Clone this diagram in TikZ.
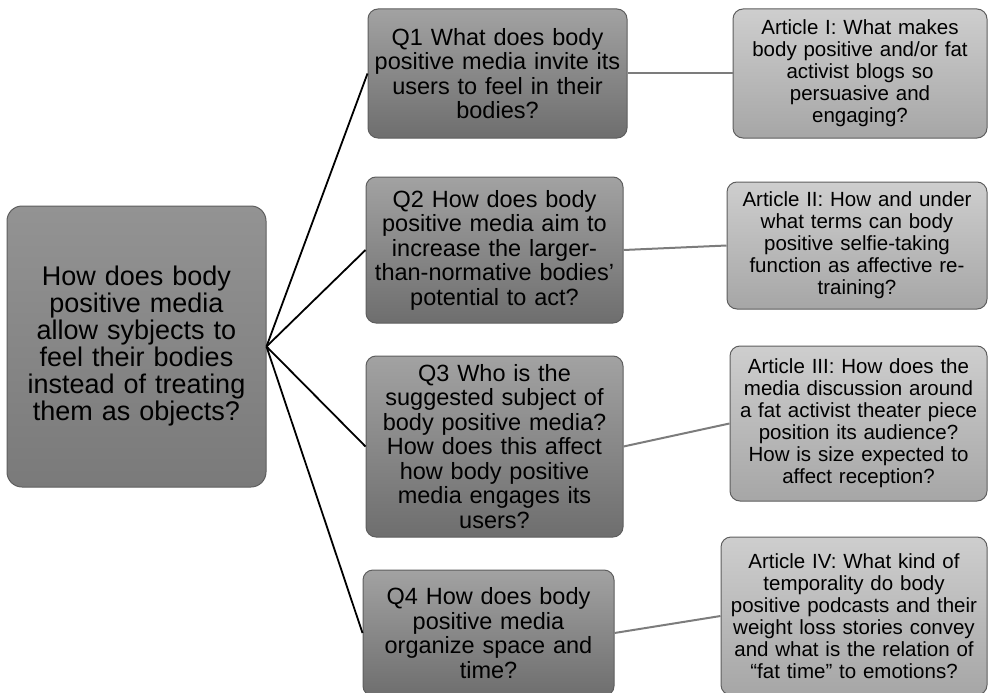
\documentclass[tikz,border=0pt]{standalone}
\usepackage{fontspec}
\setmainfont{Liberation Sans}
\usetikzlibrary{positioning}

\definecolor{rootTop}{HTML}{939393}
\definecolor{rootBot}{HTML}{7A7A7A}
\definecolor{quesTop}{HTML}{A2A2A2}
\definecolor{quesBot}{HTML}{6E6E6E}
\definecolor{artTop}{HTML}{CECECE}
\definecolor{artBot}{HTML}{A6A6A6}
\definecolor{boxLine}{HTML}{5E5E5E}
\definecolor{artLink}{HTML}{7C7C7C}

\tikzset{
    rootbox/.style={draw=boxLine, line width=1pt, rounded corners=15pt,
        top color=rootTop, bottom color=rootBot, align=center, inner sep=2pt,
        font=\fontsize{27}{27}\selectfont},
    quesbox/.style={draw=boxLine, line width=1pt, rounded corners=10pt,
        top color=quesTop, bottom color=quesBot, align=center, inner sep=2pt,
        font=\fontsize{23.5}{24.5}\selectfont},
    artbox/.style={draw=boxLine, line width=1pt, rounded corners=10pt,
        top color=artTop, bottom color=artBot, align=center, inner sep=2pt,
        font=\fontsize{20.5}{22}\selectfont},
    qlink/.style={black, line width=1.8pt},
    alink/.style={artLink, line width=2pt},
}

\begin{document}
\begin{tikzpicture}[x=1pt, y=-1pt]
    \useasboundingbox (0,0) rectangle (988,693);
    %% root question
    \node[rootbox, text width=255pt, minimum height=281pt] (root) at (136.5,346.5)
        {How does body\\ positive media\\ allow sybjects to\\ feel their bodies\\ instead of treating\\ them as objects?};
    %% research questions
    \node[quesbox, text width=255pt, minimum height=129pt] (q1) at (497.5,73.5)
        {Q1 What does body\\ positive media invite its\\ users to feel in their\\ bodies?};
    \node[quesbox, text width=253pt, minimum height=146pt] (q2) at (494.5,250)
        {Q2 How does body\\ positive media aim to\\ increase the larger-\\ than-normative bodies’\\ potential to act?};
    \node[quesbox, text width=253pt, minimum height=181pt] (q3) at (494.5,446.5)
        {Q3 Who is the\\ suggested subject of\\ body positive media?\\ How does this affect\\ how body positive\\ media engages its\\ users?};
    \node[quesbox, text width=247pt, minimum height=126pt] (q4) at (488.5,633)
        {Q4 How does body\\ positive media\\ organize space and\\ time?};
    %% articles
    \node[artbox, text width=250pt, minimum height=129pt] (art1) at (860,73.5)
        {Article I: What makes\\ body positive and/or fat\\ activist blogs so\\ persuasive and\\ engaging?};
    \node[artbox, text width=256pt, minimum height=127pt] (art2) at (857,245.5)
        {Article II: How and under\\ what terms can body\\ positive selfie-taking\\ function as affective re-\\ training?};
    \node[artbox, text width=253pt, minimum height=155pt] (art3) at (858.5,423.5)
        {Article III: How does the\\ media discussion around\\ a fat activist theater piece\\ position its audience?\\ How is size expected to\\ affect reception?};
    \node[artbox, text width=262pt, minimum height=158pt] (art4) at (854,616)
        {Article IV: What kind of\\ temporality do body\\ positive podcasts and their\\ weight loss stories convey\\ and what is the relation of\\ “fat time” to emotions?};
    %% connectors
    \foreach \i in {1,...,4}{
        \draw[qlink] (root.east) -- (q\i.west);
        \draw[alink] (q\i.east) -- (art\i.west);
    }
\end{tikzpicture}
\end{document}
